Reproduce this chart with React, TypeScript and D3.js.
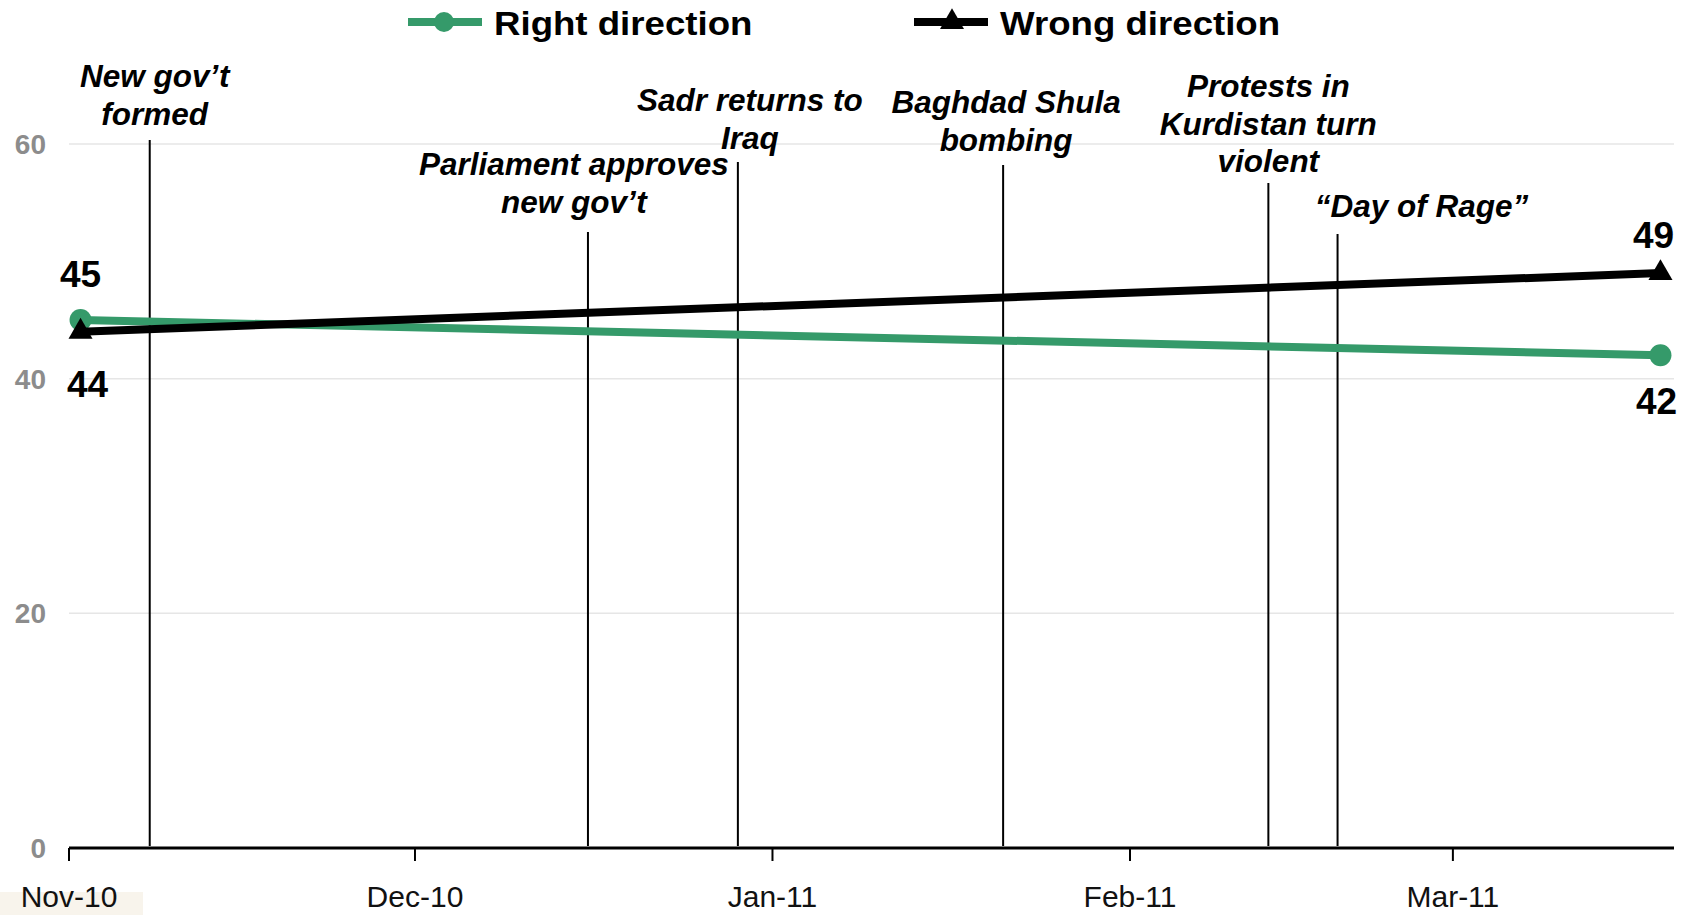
import React, { useEffect, useRef } from 'react';
import * as d3 from 'd3';

const surveyDates = ['2010-11-02', '2011-03-19'];
const rightDirection = [45, 42];
const wrongDirection = [44, 49];

const monthTicks = ['2010-11-01', '2010-12-01', '2011-01-01', '2011-02-01', '2011-03-01'];
const monthLabels = ['Nov-10', 'Dec-10', 'Jan-11', 'Feb-11', 'Mar-11'];
const yTicks = [0, 20, 40, 60];

const eventDates = ['2010-11-08', '2010-12-16', '2010-12-29', '2011-01-21', '2011-02-13', '2011-02-19'];
const eventLabels = [
  ['New gov’t', 'formed'],
  ['Parliament approves', 'new gov’t'],
  ['Sadr returns to', 'Iraq'],
  ['Baghdad Shula', 'bombing'],
  ['Protests in', 'Kurdistan turn', 'violent'],
  ['“Day of Rage”'],
];

// where each annotation sits (label dx from its line, first baseline, top of line)
const eventLayout = [
  { dx: 5, baseline: 87, top: 140 },
  { dx: -14, baseline: 175, top: 232 },
  { dx: 12, baseline: 111, top: 162 },
  { dx: 3, baseline: 113, top: 165 },
  { dx: 0, baseline: 97, top: 183 },
  { dx: 84, baseline: 217, top: 234 },
];

const FONT = 'Arial, "Liberation Sans", sans-serif';
const GREEN = '#359a6a';

export default function App() {
  const svgRef = useRef<SVGSVGElement>(null);

  useEffect(() => {
    if (!svgRef.current) return;
    const svg = d3.select(svgRef.current);
    svg.selectAll('*').remove();

    const parse = (s: string) => new Date(s + 'T00:00:00Z');
    const x = d3.scaleUtc()
      .domain([parse('2010-11-01'), parse('2011-03-20')])
      .range([69, 1672]);
    const y = d3.scaleLinear().domain([0, 60]).range([848, 144]);

    // faint background behind first month label
    svg.append('rect')
      .attr('x', 0).attr('y', 892).attr('width', 143).attr('height', 23)
      .attr('fill', '#f8f4ec');

    // gridlines
    svg.append('g')
      .selectAll('line')
      .data(yTicks.filter(t => t > 0))
      .join('line')
      .attr('x1', x.range()[0])
      .attr('x2', x.range()[1] + 2)
      .attr('y1', d => y(d))
      .attr('y2', d => y(d))
      .attr('stroke', '#e6e6e6')
      .attr('stroke-width', 1.5);

    // y labels
    svg.append('g')
      .selectAll('text')
      .data(yTicks)
      .join('text')
      .attr('x', 46)
      .attr('y', d => y(d))
      .attr('dy', '0.36em')
      .attr('text-anchor', 'end')
      .attr('fill', '#8c8c8c')
      .attr('font-family', FONT)
      .attr('font-weight', 'bold')
      .attr('font-size', 28)
      .text(d => d);

    // event lines + labels
    eventDates.forEach((ds, i) => {
      const ex = x(parse(ds));
      const lay = eventLayout[i];
      svg.append('line')
        .attr('x1', ex).attr('x2', ex)
        .attr('y1', lay.top).attr('y2', y(0) - 2)
        .attr('stroke', '#000')
        .attr('stroke-width', 2);
      const t = svg.append('text')
        .attr('text-anchor', 'middle')
        .attr('font-family', FONT)
        .attr('font-weight', 'bold')
        .attr('font-style', 'italic')
        .attr('font-size', 31.5)
        .attr('fill', '#000');
      eventLabels[i].forEach((ln, j) => {
        t.append('tspan')
          .attr('x', ex + lay.dx)
          .attr('y', lay.baseline + j * 37.5)
          .text(ln);
      });
    });

    // x axis
    const ax = svg.append('g');
    ax.append('line')
      .attr('x1', x.range()[0]).attr('x2', x.range()[1] + 2)
      .attr('y1', y(0)).attr('y2', y(0))
      .attr('stroke', '#000').attr('stroke-width', 3);
    monthTicks.forEach((ds, i) => {
      const tx = x(parse(ds));
      ax.append('line')
        .attr('x1', tx).attr('x2', tx)
        .attr('y1', y(0)).attr('y2', y(0) + 13)
        .attr('stroke', '#000').attr('stroke-width', 2);
      ax.append('text')
        .attr('x', tx)
        .attr('y', 907)
        .attr('text-anchor', 'middle')
        .attr('font-family', FONT)
        .attr('font-size', 30)
        .attr('fill', '#111')
        .text(monthLabels[i]);
    });

    const pts = (vals: number[]) => vals.map((v, i) => ({ d: parse(surveyDates[i]), v }));
    const line = d3.line<{ d: Date; v: number }>().x(p => x(p.d)).y(p => y(p.v));

    // right direction
    const rPts = pts(rightDirection);
    svg.append('path')
      .datum(rPts)
      .attr('d', line)
      .attr('fill', 'none')
      .attr('stroke', GREEN)
      .attr('stroke-width', 8);
    svg.append('g').selectAll('circle')
      .data(rPts)
      .join('circle')
      .attr('cx', p => x(p.d))
      .attr('cy', p => y(p.v))
      .attr('r', 11)
      .attr('fill', GREEN);

    // wrong direction
    const wPts = pts(wrongDirection);
    svg.append('path')
      .datum(wPts)
      .attr('d', line)
      .attr('fill', 'none')
      .attr('stroke', '#000')
      .attr('stroke-width', 8);
    const tri = d3.symbol().type(d3.symbolTriangle).size(250);
    svg.append('g').selectAll('path')
      .data(wPts)
      .join('path')
      .attr('transform', p => `translate(${x(p.d)},${y(p.v)})`)
      .attr('d', tri)
      .attr('fill', '#000');

    // value labels
    const valueLabels = [
      { p: rPts[0], dx: 0, dy: -33 },
      { p: wPts[0], dx: 7, dy: 65 },
      { p: wPts[1], dx: -7, dy: -25 },
      { p: rPts[1], dx: -4, dy: 59 },
    ];
    svg.append('g').selectAll('text')
      .data(valueLabels)
      .join('text')
      .attr('x', l => x(l.p.d) + l.dx)
      .attr('y', l => y(l.p.v) + l.dy)
      .attr('text-anchor', 'middle')
      .attr('font-family', FONT)
      .attr('font-weight', 'bold')
      .attr('font-size', 37)
      .attr('fill', '#000')
      .text(l => l.p.v);

    // legend
    const legend = [
      { name: 'Right direction', color: GREEN, x0: 408, shape: 'circle' },
      { name: 'Wrong direction', color: '#000', x0: 914, shape: 'triangle' },
    ];
    legend.forEach(it => {
      const g = svg.append('g').attr('transform', `translate(${it.x0},22)`);
      g.append('line')
        .attr('x1', 0).attr('x2', 74)
        .attr('y1', 0).attr('y2', 0)
        .attr('stroke', it.color).attr('stroke-width', 8);
      if (it.shape === 'circle') {
        g.append('circle').attr('cx', 36).attr('cy', 0).attr('r', 10).attr('fill', it.color);
      } else {
        g.append('path')
          .attr('transform', 'translate(38,0)')
          .attr('d', tri)
          .attr('fill', it.color);
      }
      g.append('text')
        .attr('transform', 'translate(86,13) scale(1.11,1)')
        .attr('font-family', FONT)
        .attr('font-weight', 'bold')
        .attr('font-size', 33)
        .attr('fill', '#000')
        .text(it.name);
    });
  }, []);

  return (
    <svg
      ref={svgRef}
      width={1696}
      height={915}
      style={{ position: 'absolute', left: 0, top: 0, background: '#fff', display: 'block' }}
    />
  );
}
